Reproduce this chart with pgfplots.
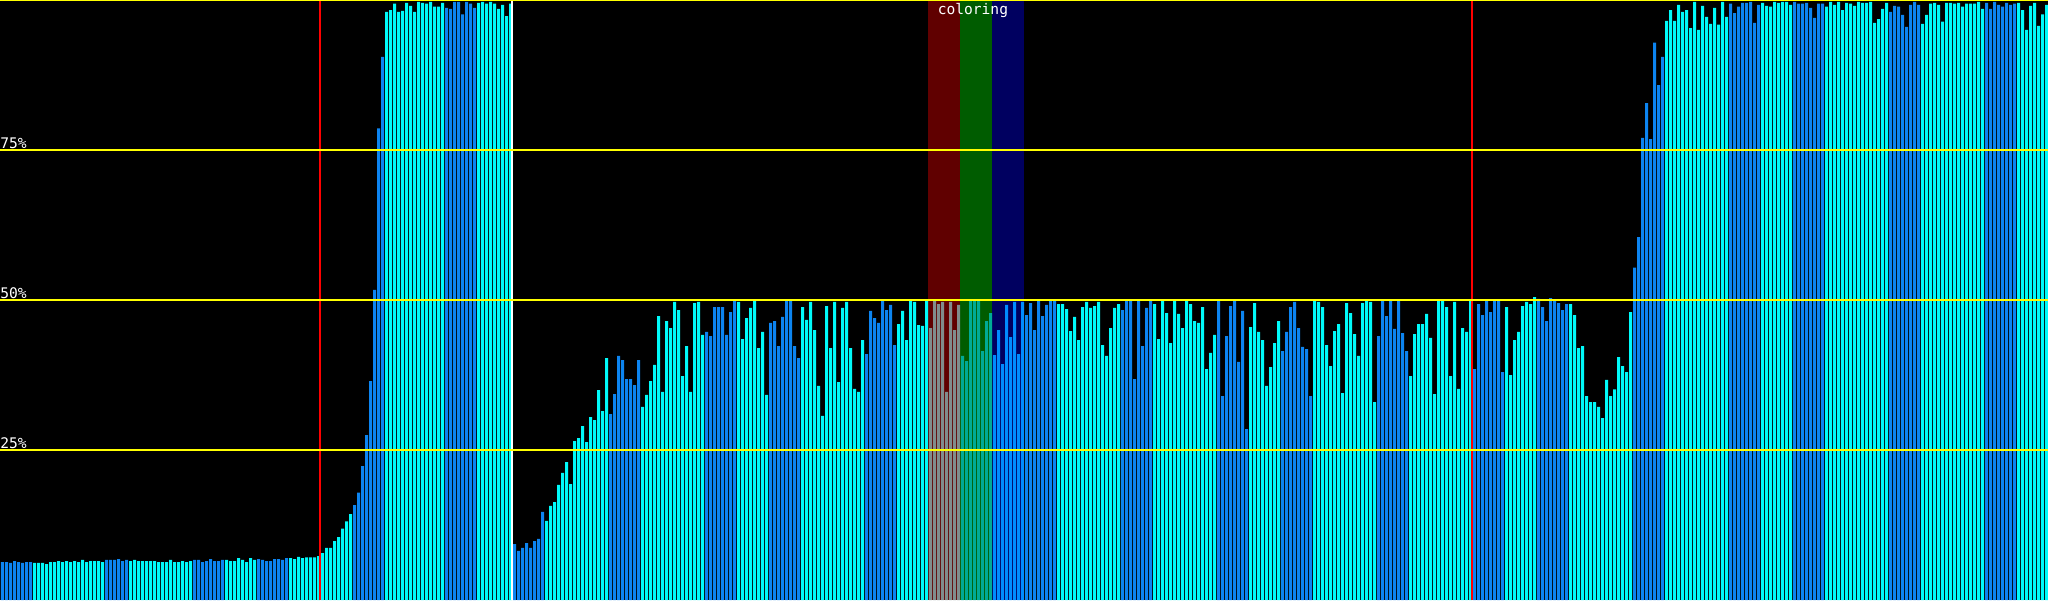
\documentclass[border=0pt]{standalone}
\usepackage{pgfplots}
\pgfplotsset{compat=1.18}
\usepackage{pgfplotstable}
\usepackage{fontspec}
\newfontfamily\monofont{DejaVu Sans Mono}

\definecolor{cyanbar}{RGB}{0,250,250}
\definecolor{bluebar}{RGB}{12,132,240}
\definecolor{redbandbar}{RGB}{128,140,140}
\definecolor{greenbandbar}{RGB}{0,170,150}
\definecolor{navybandbar}{RGB}{0,140,255}
\definecolor{redband}{RGB}{96,0,0}
\definecolor{greenband}{RGB}{0,92,0}
\definecolor{navyband}{RGB}{0,0,96}
\definecolor{gridyellow}{RGB}{255,255,0}

% k = bar index, v = percent, g = colour group
% 0 cyan, 1 blue, 2 red band, 3 green band, 4 navy band
\pgfplotstableread[row sep=\\]{
k v g\\
0 6.3 1\\ 1 6.3 1\\ 2 6.2 1\\ 3 6.5 1\\ 4 6.3 1\\ 5 6.2 1\\ 6 6.3 1\\ 7 6.3 1\\
8 6.2 0\\ 9 6.2 0\\ 10 6.2 0\\ 11 6.0 0\\ 12 6.3 0\\ 13 6.3 0\\ 14 6.5 0\\ 15 6.3 0\\
16 6.5 0\\ 17 6.3 0\\ 18 6.5 0\\ 19 6.3 0\\ 20 6.7 0\\ 21 6.3 0\\ 22 6.5 0\\ 23 6.5 0\\
24 6.5 0\\ 25 6.3 0\\ 26 6.7 1\\ 27 6.7 1\\ 28 6.7 1\\ 29 6.8 1\\ 30 6.5 1\\ 31 6.7 1\\
32 6.5 0\\ 33 6.7 0\\ 34 6.5 0\\ 35 6.5 0\\ 36 6.5 0\\ 37 6.5 0\\ 38 6.5 0\\ 39 6.3 0\\
40 6.3 0\\ 41 6.3 0\\ 42 6.7 0\\ 43 6.3 0\\ 44 6.3 0\\ 45 6.5 0\\ 46 6.3 0\\ 47 6.5 0\\
48 6.7 1\\ 49 6.7 1\\ 50 6.3 1\\ 51 6.5 1\\ 52 6.8 1\\ 53 6.5 1\\ 54 6.5 1\\ 55 6.7 1\\
56 6.7 0\\ 57 6.5 0\\ 58 6.5 0\\ 59 7.0 0\\ 60 6.7 0\\ 61 6.3 0\\ 62 7.0 0\\ 63 6.7 0\\
64 6.8 1\\ 65 6.7 1\\ 66 6.5 1\\ 67 6.5 1\\ 68 6.8 1\\ 69 6.8 1\\ 70 6.7 1\\ 71 7.0 1\\
72 7.0 0\\ 73 6.8 0\\ 74 7.2 0\\ 75 7.0 0\\ 76 7.1 0\\ 77 7.1 0\\ 78 7.1 0\\ 79 7.3 0\\
80 7.8 0\\ 81 8.7 0\\ 82 8.7 0\\ 83 9.8 0\\ 84 10.5 0\\ 85 11.9 0\\ 86 13.1 0\\ 87 14.3 0\\
88 15.8 1\\ 89 17.9 1\\ 90 22.3 1\\ 91 27.5 1\\ 92 36.5 1\\ 93 51.7 1\\ 94 78.6 1\\ 95 90.5 1\\
96 98.0 0\\ 97 98.3 0\\ 98 99.4 0\\ 99 98.0 0\\ 100 98.2 0\\ 101 99.5 0\\ 102 99.0 0\\ 103 98.0 0\\
104 99.7 0\\ 105 99.5 0\\ 106 99.4 0\\ 107 99.7 0\\ 108 98.9 0\\ 109 98.9 0\\ 110 99.5 0\\
111 98.7 1\\ 112 98.5 1\\ 113 99.7 1\\ 114 99.7 1\\ 115 97.6 1\\ 116 99.7 1\\ 117 99.4 1\\ 118 98.7 1\\
119 99.5 0\\ 120 99.7 0\\ 121 99.4 0\\ 122 99.7 0\\ 123 99.4 0\\ 124 98.5 0\\ 125 99.2 0\\ 126 97.3 0\\ 127 99.4 0\\
128 9.3 1\\ 129 8.2 1\\ 130 8.7 1\\ 131 9.5 1\\ 132 8.7 1\\ 133 9.8 1\\ 134 10.2 1\\ 135 14.7 1\\
136 13.2 0\\ 137 15.7 0\\ 138 16.3 0\\ 139 19.2 0\\ 140 21.2 0\\ 141 23.0 0\\ 142 19.3 0\\ 143 26.5 0\\
144 27.0 0\\ 145 29.0 0\\ 146 26.3 0\\ 147 30.5 0\\ 148 30.0 0\\ 149 35.0 0\\ 150 31.5 0\\ 151 40.3 0\\
152 31.0 1\\ 153 34.3 1\\ 154 40.7 1\\ 155 40.0 1\\ 156 36.8 1\\ 157 36.8 1\\ 158 35.8 1\\ 159 40.0 1\\
160 32.2 0\\ 161 34.2 0\\ 162 36.5 0\\ 163 39.2 0\\ 164 47.3 0\\ 165 34.7 0\\ 166 46.5 0\\ 167 45.3 0\\
168 49.7 0\\ 169 48.3 0\\ 170 37.3 0\\ 171 42.3 0\\ 172 34.7 0\\ 173 49.5 0\\ 174 49.7 0\\ 175 44.2 0\\
176 44.7 1\\ 177 44.0 1\\ 178 48.8 1\\ 179 48.8 1\\ 180 48.8 1\\ 181 44.2 1\\ 182 48.0 1\\ 183 49.8 1\\
184 49.7 0\\ 185 43.5 0\\ 186 47.0 0\\ 187 48.7 0\\ 188 49.8 0\\ 189 42.0 0\\ 190 44.7 0\\ 191 34.2 0\\
192 46.2 1\\ 193 46.5 1\\ 194 42.3 1\\ 195 47.2 1\\ 196 49.8 1\\ 197 49.8 1\\ 198 42.3 1\\ 199 40.3 1\\
200 48.8 0\\ 201 46.7 0\\ 202 49.7 0\\ 203 45.0 0\\ 204 35.7 0\\ 205 30.7 0\\ 206 49.0 0\\ 207 42.0 0\\
208 49.7 0\\ 209 36.3 0\\ 210 48.7 0\\ 211 49.7 0\\ 212 42.0 0\\ 213 35.2 0\\ 214 34.7 0\\ 215 43.3 0\\
216 41.0 1\\ 217 48.2 1\\ 218 47.0 1\\ 219 46.2 1\\ 220 49.8 1\\ 221 48.3 1\\ 222 49.2 1\\ 223 42.5 1\\
224 46.0 0\\ 225 48.2 0\\ 226 43.3 0\\ 227 49.8 0\\ 228 49.7 0\\ 229 45.8 0\\ 230 45.7 0\\ 231 49.8 0\\
232 45.3 2\\ 233 49.8 2\\ 234 49.3 2\\ 235 49.7 2\\ 236 34.7 2\\ 237 49.7 2\\ 238 45.0 2\\ 239 49.2 2\\
240 40.7 3\\ 241 39.8 3\\ 242 49.8 3\\ 243 49.8 3\\ 244 49.8 3\\ 245 41.5 3\\ 246 46.5 3\\ 247 47.8 3\\
248 40.8 4\\ 249 45.0 4\\ 250 39.3 4\\ 251 49.2 4\\ 252 43.8 4\\ 253 49.7 4\\ 254 41.0 4\\ 255 49.7 4\\
256 47.5 1\\ 257 49.5 1\\ 258 45.0 1\\ 259 49.8 1\\ 260 47.3 1\\ 261 49.2 1\\ 262 49.8 1\\ 263 49.8 1\\
264 49.3 0\\ 265 49.3 0\\ 266 48.5 0\\ 267 44.8 0\\ 268 47.2 0\\ 269 43.3 0\\ 270 48.8 0\\ 271 49.7 0\\
272 48.7 0\\ 273 49.0 0\\ 274 49.7 0\\ 275 42.5 0\\ 276 40.7 0\\ 277 45.3 0\\ 278 48.7 0\\ 279 49.3 0\\
280 48.3 1\\ 281 49.8 1\\ 282 49.8 1\\ 283 36.8 1\\ 284 49.8 1\\ 285 42.3 1\\ 286 48.7 1\\ 287 49.8 1\\
288 49.3 0\\ 289 43.5 0\\ 290 49.8 0\\ 291 47.8 0\\ 292 42.8 0\\ 293 49.8 0\\ 294 47.7 0\\ 295 45.3 0\\
296 49.8 0\\ 297 49.3 0\\ 298 46.5 0\\ 299 46.2 0\\ 300 48.8 0\\ 301 38.5 0\\ 302 41.2 0\\ 303 44.2 0\\
304 49.8 1\\ 305 34.0 1\\ 306 44.0 1\\ 307 49.0 1\\ 308 49.8 1\\ 309 39.7 1\\ 310 48.2 1\\ 311 28.5 1\\
312 45.5 0\\ 313 49.5 0\\ 314 44.7 0\\ 315 43.3 0\\ 316 35.7 0\\ 317 38.8 0\\ 318 42.8 0\\ 319 46.5 0\\
320 41.5 1\\ 321 44.7 1\\ 322 48.8 1\\ 323 49.7 1\\ 324 45.3 1\\ 325 42.2 1\\ 326 41.8 1\\ 327 34.0 1\\
328 49.8 0\\ 329 49.7 0\\ 330 48.8 0\\ 331 42.5 0\\ 332 39.0 0\\ 333 44.8 0\\ 334 46.0 0\\ 335 34.5 0\\
336 49.5 0\\ 337 47.8 0\\ 338 44.3 0\\ 339 40.7 0\\ 340 49.5 0\\ 341 49.8 0\\ 342 49.7 0\\ 343 33.0 0\\
344 44.0 1\\ 345 49.8 1\\ 346 47.3 1\\ 347 49.8 1\\ 348 45.2 1\\ 349 49.8 1\\ 350 44.5 1\\ 351 41.5 1\\
352 37.3 0\\ 353 44.3 0\\ 354 46.0 0\\ 355 46.0 0\\ 356 47.7 0\\ 357 43.7 0\\ 358 34.3 0\\ 359 49.8 0\\
360 49.8 0\\ 361 48.8 0\\ 362 37.3 0\\ 363 49.7 0\\ 364 35.2 0\\ 365 45.3 0\\ 366 44.7 0\\ 367 49.8 0\\
368 38.5 1\\ 369 49.3 1\\ 370 47.5 1\\ 371 49.8 1\\ 372 48.0 1\\ 373 49.8 1\\ 374 49.8 1\\ 375 38.0 1\\
376 48.8 0\\ 377 37.5 0\\ 378 43.3 0\\ 379 44.7 0\\ 380 49.0 0\\ 381 49.7 0\\ 382 49.3 0\\ 383 50.5 0\\
384 50.2 1\\ 385 48.8 1\\ 386 46.5 1\\ 387 50.3 1\\ 388 49.8 1\\ 389 49.5 1\\ 390 48.3 1\\ 391 49.3 1\\
392 49.3 0\\ 393 47.5 0\\ 394 42.0 0\\ 395 42.3 0\\ 396 34.0 0\\ 397 33.0 0\\ 398 33.0 0\\ 399 32.2 0\\
400 30.3 0\\ 401 36.7 0\\ 402 34.0 0\\ 403 35.1 0\\ 404 40.5 0\\ 405 39.0 0\\ 406 38.0 0\\ 407 48.0 0\\
408 55.4 1\\ 409 60.5 1\\ 410 77.0 1\\ 411 82.8 1\\ 412 76.8 1\\ 413 92.9 1\\ 414 85.8 1\\ 415 90.5 1\\
416 96.5 0\\ 417 98.3 0\\ 418 96.5 0\\ 419 99.2 0\\ 420 98.0 0\\ 421 98.3 0\\ 422 95.3 0\\ 423 99.7 0\\
424 95.0 0\\ 425 99.0 0\\ 426 97.2 0\\ 427 96.0 0\\ 428 98.7 0\\ 429 95.9 0\\ 430 99.7 0\\ 431 97.2 0\\
432 99.4 1\\ 433 97.8 1\\ 434 98.9 1\\ 435 99.5 1\\ 436 99.5 1\\ 437 99.7 1\\ 438 96.2 1\\ 439 99.2 1\\
440 99.5 0\\ 441 99.0 0\\ 442 98.9 0\\ 443 99.7 0\\ 444 99.5 0\\ 445 99.7 0\\ 446 99.7 0\\ 447 99.2 0\\
448 99.7 1\\ 449 99.4 1\\ 450 99.4 1\\ 451 99.5 1\\ 452 98.7 1\\ 453 97.0 1\\ 454 99.4 1\\ 455 99.4 1\\
456 98.9 0\\ 457 99.7 0\\ 458 99.2 0\\ 459 99.7 0\\ 460 98.3 0\\ 461 99.5 0\\ 462 99.4 0\\ 463 99.0 0\\
464 99.7 0\\ 465 99.5 0\\ 466 99.5 0\\ 467 99.7 0\\ 468 96.2 0\\ 469 96.8 0\\ 470 98.5 0\\ 471 99.5 0\\
472 98.0 1\\ 473 99.0 1\\ 474 98.9 1\\ 475 97.5 1\\ 476 95.5 1\\ 477 99.2 1\\ 478 99.7 1\\ 479 99.2 1\\
480 96.0 0\\ 481 97.5 0\\ 482 99.4 0\\ 483 99.5 0\\ 484 99.2 0\\ 485 96.4 0\\ 486 99.5 0\\ 487 99.5 0\\
488 99.4 0\\ 489 99.5 0\\ 490 98.9 0\\ 491 99.4 0\\ 492 99.4 0\\ 493 99.4 0\\ 494 99.7 0\\ 495 98.5 0\\
496 99.5 1\\ 497 98.5 1\\ 498 99.7 1\\ 499 99.2 1\\ 500 98.9 1\\ 501 99.5 1\\ 502 99.2 1\\ 503 99.4 1\\
504 99.5 0\\ 505 98.3 0\\ 506 95.0 0\\ 507 99.0 0\\ 508 99.5 0\\ 509 95.7 0\\ 510 97.6 0\\ 511 99.2 0\\
}\bars

\begin{document}
\begin{tikzpicture}
\begin{axis}[
    width=1024pt, height=300pt, scale only axis,
    xmin=-0.625, xmax=511.375, ymin=0, ymax=100,
    axis background/.style={fill=black},
    axis line style={draw=none},
    xtick=\empty, ytick=\empty,
    mybar/.style={ybar, bar width=0.75, bar shift=0pt, draw=none},
]
% colour bands behind the bars
\addplot[fill=redband, draw=none] coordinates {(231.375,0) (231.375,100) (239.375,100) (239.375,0)} --cycle;
\addplot[fill=greenband, draw=none] coordinates {(239.375,0) (239.375,100) (247.375,100) (247.375,0)} --cycle;
\addplot[fill=navyband, draw=none] coordinates {(247.375,0) (247.375,100) (255.375,100) (255.375,0)} --cycle;

\addplot[mybar, fill=cyanbar, restrict expr to domain={\thisrow{g}}{-0.5:0.5}] table[x=k, y=v] {\bars};
\addplot[mybar, fill=bluebar, restrict expr to domain={\thisrow{g}}{0.5:1.5}] table[x=k, y=v] {\bars};
\addplot[mybar, fill=redbandbar, restrict expr to domain={\thisrow{g}}{1.5:2.5}] table[x=k, y=v] {\bars};
\addplot[mybar, fill=greenbandbar, restrict expr to domain={\thisrow{g}}{2.5:3.5}] table[x=k, y=v] {\bars};
\addplot[mybar, fill=navybandbar, restrict expr to domain={\thisrow{g}}{3.5:4.5}] table[x=k, y=v] {\bars};

% markers
\addplot[sharp plot, draw=red, line width=1pt] coordinates {(79.375,0) (79.375,100)};
\addplot[sharp plot, draw=red, line width=1pt] coordinates {(367.375,0) (367.375,100)};
\addplot[sharp plot, draw=white, line width=1pt] coordinates {(127.375,0) (127.375,100)};

% yellow level lines
\addplot[sharp plot, draw=gridyellow, line width=0.6pt] coordinates {(-0.625,25) (511.375,25)};
\addplot[sharp plot, draw=gridyellow, line width=0.6pt] coordinates {(-0.625,50) (511.375,50)};
\addplot[sharp plot, draw=gridyellow, line width=0.6pt] coordinates {(-0.625,75) (511.375,75)};
\addplot[sharp plot, draw=gridyellow, line width=1.2pt] coordinates {(-0.625,100) (511.375,100)};

\node[anchor=base west, inner sep=0pt, text=white, font=\monofont\fontsize{7.3}{8}\selectfont] at (axis cs:-0.625,75.3) {75\%};
\node[anchor=base west, inner sep=0pt, text=white, font=\monofont\fontsize{7.3}{8}\selectfont] at (axis cs:-0.625,50.3) {50\%};
\node[anchor=base west, inner sep=0pt, text=white, font=\monofont\fontsize{7.3}{8}\selectfont] at (axis cs:-0.625,25.3) {25\%};
\node[anchor=base, inner sep=0pt, text=white, font=\monofont\fontsize{7.3}{8}\selectfont] at (axis cs:242.6,97.5) {coloring};
\end{axis}
\end{tikzpicture}
\end{document}
